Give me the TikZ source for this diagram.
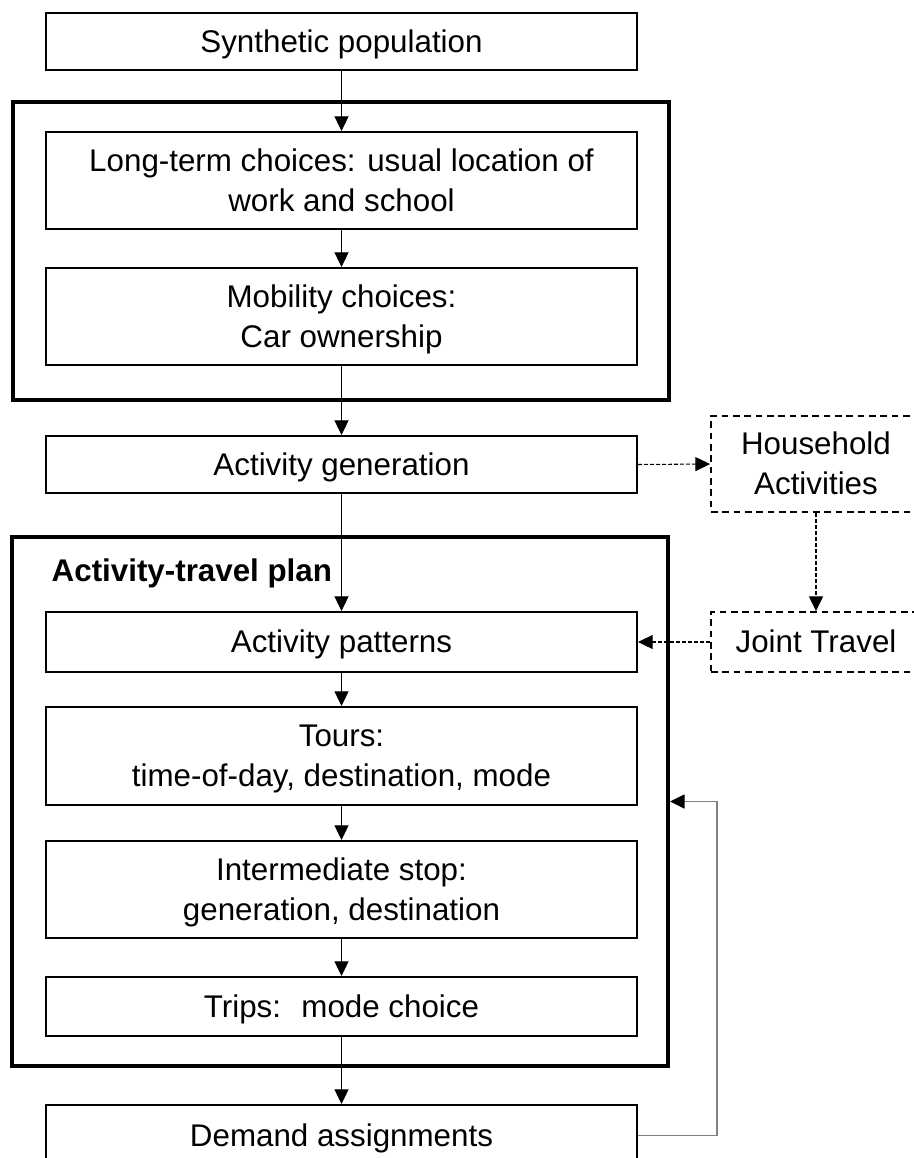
\documentclass[tikz,border=0pt]{standalone}
\usepackage{fontspec}
\setmainfont{Liberation Sans}
\usetikzlibrary{arrows.meta}
\begin{document}
\begin{tikzpicture}[x=0.75pt,y=-0.75pt,
  every node/.style={font=\fontsize{23.5}{30}\selectfont},
  box/.style={draw, line width=1.5pt, rectangle, inner sep=0pt, align=center,
    minimum width=443.25pt, text depth=1pt},
  outerbox/.style={draw, line width=3pt, rectangle, inner sep=0pt, minimum width=492pt},
  dbox/.style={draw, line width=1.4pt, dash pattern=on 5pt off 3.5pt, rectangle,
    inner sep=0pt, align=center, minimum width=157.5pt},
  arr/.style={line width=0.8pt, -{Triangle[length=11pt,width=10.5pt]}},
  darr/.style={line width=0.8pt, dash pattern=on 3pt off 1.5pt, -{Triangle[length=11pt,width=10.5pt]}},
  farr/.style={line width=1.2pt, draw={rgb,255:red,128;green,128;blue,128},
    -{Triangle[length=11pt,width=10.5pt,color=black]}}
]
\fill[white] (0,0) rectangle (914,1158);
\clip (0,0) rectangle (914,1158);

% outer frames
\node[outerbox, minimum height=223.5pt] (out1) at (341,251) {};
\node[outerbox, minimum height=396.75pt] (out2) at (340,801.5) {};

% main boxes
\node[box, minimum height=42.75pt] (syn) at (341.5,41.5) {Synthetic population};
\node[box, minimum height=72.75pt] (lt) at (341.5,180.5) {Long-term choices: usual location of\\work and school};
\node[box, minimum height=72.75pt] (mob) at (341.5,316.5) {Mobility choices:\\Car ownership};
\node[box, minimum height=42.75pt] (gen) at (341.5,464.5) {Activity generation};
\node[anchor=west, font=\fontsize{23.5}{30}\selectfont\bfseries] (atp) at (47,573) {Activity-travel plan};
\node[box, minimum height=45pt] (pat) at (341.5,642) {Activity patterns};
\node[box, minimum height=73.5pt] (tours) at (341.5,756) {Tours:\\time-of-day, destination, mode};
\node[box, minimum height=72.75pt] (inter) at (341.5,889.5) {Intermediate stop:\\generation, destination};
\node[box, minimum height=44.25pt] (trips) at (341.5,1006.5) {Trips:~ mode choice};
\node[box, minimum height=45.75pt] (dem) at (341.5,1135.5) {Demand assignments};

% side dashed boxes
\node[dbox, minimum height=72pt, text depth=1pt] (hh) at (816,464) {Household\\Activities};
\node[dbox, minimum height=45pt, text depth=1pt] (jt) at (816,642) {Joint Travel};

% main flow
\draw[arr] (syn) -- (lt);
\draw[arr] (lt) -- (mob);
\draw[arr] (mob) -- (gen);
\draw[arr] (gen) -- (pat);
\draw[arr] (pat) -- (tours);
\draw[arr] (tours) -- (inter);
\draw[arr] (inter) -- (trips);
\draw[arr] (trips) -- (dem);

% dashed links
\draw[darr] (gen.east) -- (hh.west);
\draw[darr] (hh.south) -- (jt.north);
\draw[darr] (jt.west) -- (pat.east);

% feedback
\draw[farr] (dem.east) -- ++(79,0) |- (out2.east);
\end{tikzpicture}
\end{document}
